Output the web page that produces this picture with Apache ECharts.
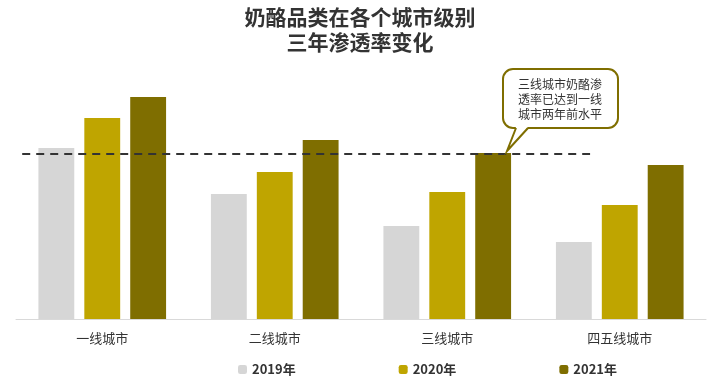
<!DOCTYPE html>
<html>
<head>
<meta charset="utf-8">
<script src="https://cdn.jsdelivr.net/npm/echarts@6/dist/echarts.min.js"></script>
<style>
html,body{margin:0;padding:0;background:#fff;}
#main{width:720px;height:380px;}
</style>
</head>
<body>
<div id="main"></div>
<script>
var cities = ['一线城市', '二线城市', '三线城市', '四五线城市'];
var years = ['2019年', '2020年', '2021年'];
var v2019 = [17.1, 12.5, 9.3, 7.7];
var v2020 = [20.1, 14.7, 12.7, 11.4];
var v2021 = [22.2, 17.9, 16.6, 15.4];
var refLine = [[0.009, 16.5], [0.832, 16.5]]; // 一线城市两年前水平
var noteLines = ['三线城市奶酪渗', '透率已达到一线', '城市两年前水平'];

var colors = ['#d6d6d6', '#bfa500', '#7f6e00'];
var font = '"Noto Sans CJK SC", "Microsoft YaHei", sans-serif';

var chart = echarts.init(document.getElementById('main'));

var option = {
    animation: false,
    backgroundColor: '#fff',
    color: colors,
    title: {
        text: '奶酪品类在各个城市级别\n三年渗透率变化',
        left: 'center',
        top: 0,
        textStyle: {
            fontFamily: font,
            fontSize: 21,
            fontWeight: 'bold',
            color: '#333',
            lineHeight: 25
        }
    },
    legend: {
        top: 358,
        left: 233,
        itemWidth: 9,
        itemHeight: 9,
        itemGap: 103,
        data: years,
        textStyle: {
            fontFamily: font,
            fontSize: 13,
            fontWeight: 'bold',
            color: '#333'
        }
    },
    grid: {
        left: 16,
        right: 14,
        top: 59,
        bottom: 61
    },
    xAxis: [
        {
            type: 'category',
            data: cities,
            axisTick: {show: false},
            axisLine: {lineStyle: {color: '#d9d9d9', width: 1}},
            axisLabel: {
                margin: 13,
                fontFamily: font,
                fontSize: 13,
                color: '#333'
            }
        },
        {
            type: 'value',
            min: 0,
            max: 1,
            show: false
        }
    ],
    yAxis: {
        type: 'value',
        min: 0,
        max: 26,
        show: false,
        splitLine: {show: false}
    },
    series: [
        {name: years[0], type: 'bar', data: v2019, barGap: '28%', barCategoryGap: '26%'},
        {name: years[1], type: 'bar', data: v2020, barGap: '28%', barCategoryGap: '26%'},
        {name: years[2], type: 'bar', data: v2021, barGap: '28%', barCategoryGap: '26%'},
        {
            name: 'ref',
            type: 'line',
            xAxisIndex: 1,
            data: refLine,
            symbol: 'none',
            z: 5,
            lineStyle: {color: '#333', width: 2, type: [8, 6]}
        }
    ],
    graphic: [
        {
            type: 'rect',
            shape: {x: 503, y: 69, width: 115, height: 59, r: 10},
            style: {fill: '#fff', stroke: '#7f6e00', lineWidth: 2},
            z: 10
        },
        {
            type: 'polygon',
            shape: {points: [[516, 127], [528, 127], [507, 151]]},
            style: {fill: '#fff'},
            z: 11
        },
        {
            type: 'polyline',
            shape: {points: [[528, 128], [507, 151], [516, 128]]},
            style: {stroke: '#7f6e00', lineWidth: 2, fill: null},
            z: 11
        },
        {
            type: 'text',
            left: 518,
            top: 77,
            z: 12,
            style: {
                text: noteLines.join('\n'),
                font: '12px ' + font,
                fill: '#333',
                lineHeight: 15,
                align: 'left'
            }
        }
    ]
};

chart.setOption(option);
window.addEventListener('resize', function () {
    chart.resize();
});
</script>
</body>
</html>
